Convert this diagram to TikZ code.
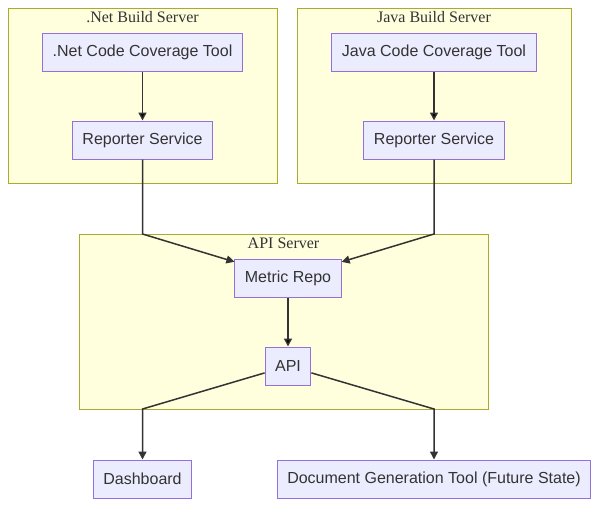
\documentclass[tikz,border=0pt]{standalone}
\usepackage{fontspec}
\setmainfont{Liberation Serif}
\setsansfont{Liberation Sans}
\usetikzlibrary{positioning,arrows.meta}
\definecolor{clfill}{HTML}{FFFFDE}
\definecolor{cldraw}{HTML}{AAAA33}
\definecolor{ndfill}{HTML}{ECECFF}
\definecolor{nddraw}{HTML}{9370DB}
\definecolor{txt}{HTML}{333333}

\begin{document}
\begin{tikzpicture}[x=1pt,y=-1pt,
  box/.style={draw=nddraw,fill=ndfill,line width=1pt,text=txt,font=\sffamily\fontsize{16}{19}\selectfont,
    minimum height=38pt,inner xsep=10pt,inner ysep=0pt},
  cluster/.style={draw=cldraw,fill=clfill,line width=1pt},
  title/.style={text=txt,font=\rmfamily\fontsize{16}{19}\selectfont,inner sep=0pt},
  link/.style={draw=txt,line width=1.5pt,-{Triangle[length=8pt,width=8pt]}}]
 \useasboundingbox (0,0) rectangle (599,506);
 % clusters
 \draw[cluster] (8,8) rectangle (277,183);
 \draw[cluster] (297,8) rectangle (571,183);
 \draw[cluster] (79,234) rectangle (488,409);
 \node[title] (netsrv)  at (142.5,17) {.Net Build Server};
 \node[title] (javasrv) at (434,17)   {Java Build Server};
 \node[title] (apisrv)  at (283.5,243) {API Server};
 % nodes
 \node[box] (netcov)  at (142.5,52)  {.Net Code Coverage Tool};
 \node[box] (netrep)  at (142.5,140) {Reporter Service};
 \node[box] (javacov) at (434,52)    {Java Code Coverage Tool};
 \node[box] (javarep) at (434,140)   {Reporter Service};
 \node[box] (repo)    at (288,278)   {Metric Repo};
 \node[box] (api)     at (288,366)   {API};
 \node[box] (dash)    at (142.5,479) {Dashboard};
 \node[box] (docgen)  at (434,479)   {Document Generation Tool (Future State)};
 \coordinate (b1) at (142.5,234);
 \coordinate (b2) at (434,234);
 \coordinate (b3) at (142.5,409);
 \coordinate (b4) at (434,409);
\path[link]
 (netcov) edge (netrep)
 (javacov) edge (javarep)
 (repo) edge (api)
;
 \draw[link] (netrep) -- (b1) -- (repo);
 \draw[link] (javarep) -- (b2) -- (repo);
 \draw[link] (api) -- (b3) -- (dash);
 \draw[link] (api) -- (b4) -- (docgen);
\end{tikzpicture}
\end{document}
